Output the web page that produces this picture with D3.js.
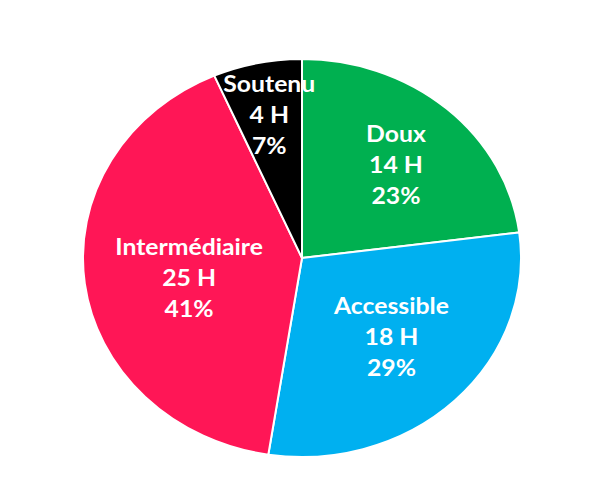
<!DOCTYPE html>
<html>
<head>
    <meta charset="utf-8">
    <title>Répartition des heures</title>
    <script src="https://d3js.org/d3.v7.min.js"></script>
    <style>
        body { margin: 0; background: #fff; }
    </style>
</head>
<body>
<div id="chart"></div>
<script type="text/javascript">
    // données du graphique
    const categories = ["Doux", "Accessible", "Intermédiaire", "Soutenu"];
    const heures = [14, 18, 25, 4];
    const pourcentages = ["23%", "29%", "41%", "7%"];
    const couleurs = ["#00B050", "#00B0F0", "#FF1656", "#000000"];

    // mise en page
    let w = 600, h = 480;
    let cx = 302, cy = 258;
    let ry = 199;              // rayon vertical
    let sx = 219 / 199;        // le camembert est un peu étiré en largeur
    // position des étiquettes (fraction du rayon) et petit décalage vertical
    let labelPos = [0.65, 0.585, 0.52, 0.73];
    let labelDy = [5, -4, 7, 0];
    let interligne = 31;

    let svg = d3.select("#chart")
        .append("svg")
            .attr("width", w)
            .attr("height", h);

    let pie = d3.pie().sort(null).value(d => d);
    let arcs = pie(heures);

    let arc = d3.arc().innerRadius(0).outerRadius(ry);

    let g = svg.append("g")
        .attr("transform", "translate(" + cx + "," + cy + ") scale(" + sx + ",1)");

    g.selectAll("path")
        .data(arcs)
        .enter()
        .append("path")
        .attr("d", arc)
        .attr("fill", (d, i) => couleurs[i])
        .attr("stroke", "#fff")
        .attr("stroke-width", 2)
        .attr("vector-effect", "non-scaling-stroke");

    // étiquettes
    let labels = svg.append("g")
        .attr("transform", "translate(" + cx + "," + cy + ")");

    arcs.forEach(function(d, i) {
        let r = ry * labelPos[i];
        let c = d3.arc().innerRadius(r).outerRadius(r).centroid(d);
        let x = c[0] * sx, y = c[1] + labelDy[i] + 7.5;
        let lignes = [categories[i], heures[i] + " H", pourcentages[i]];
        let t = labels.append("text")
            .attr("transform", "translate(" + x + "," + y + ") scale(" + sx + ",1)")
            .attr("text-anchor", "middle")
            .attr("font-family", "Lato, 'Liberation Sans', Arial, sans-serif")
            .attr("font-weight", "bold")
            .attr("font-size", "22.5px")
            .attr("fill", "#fff");
        lignes.forEach(function(l, k) {
            t.append("tspan")
                .attr("x", 0)
                .attr("y", (k - 1) * interligne)
                .text(l);
        });
    });
</script>
</body>
</html>
